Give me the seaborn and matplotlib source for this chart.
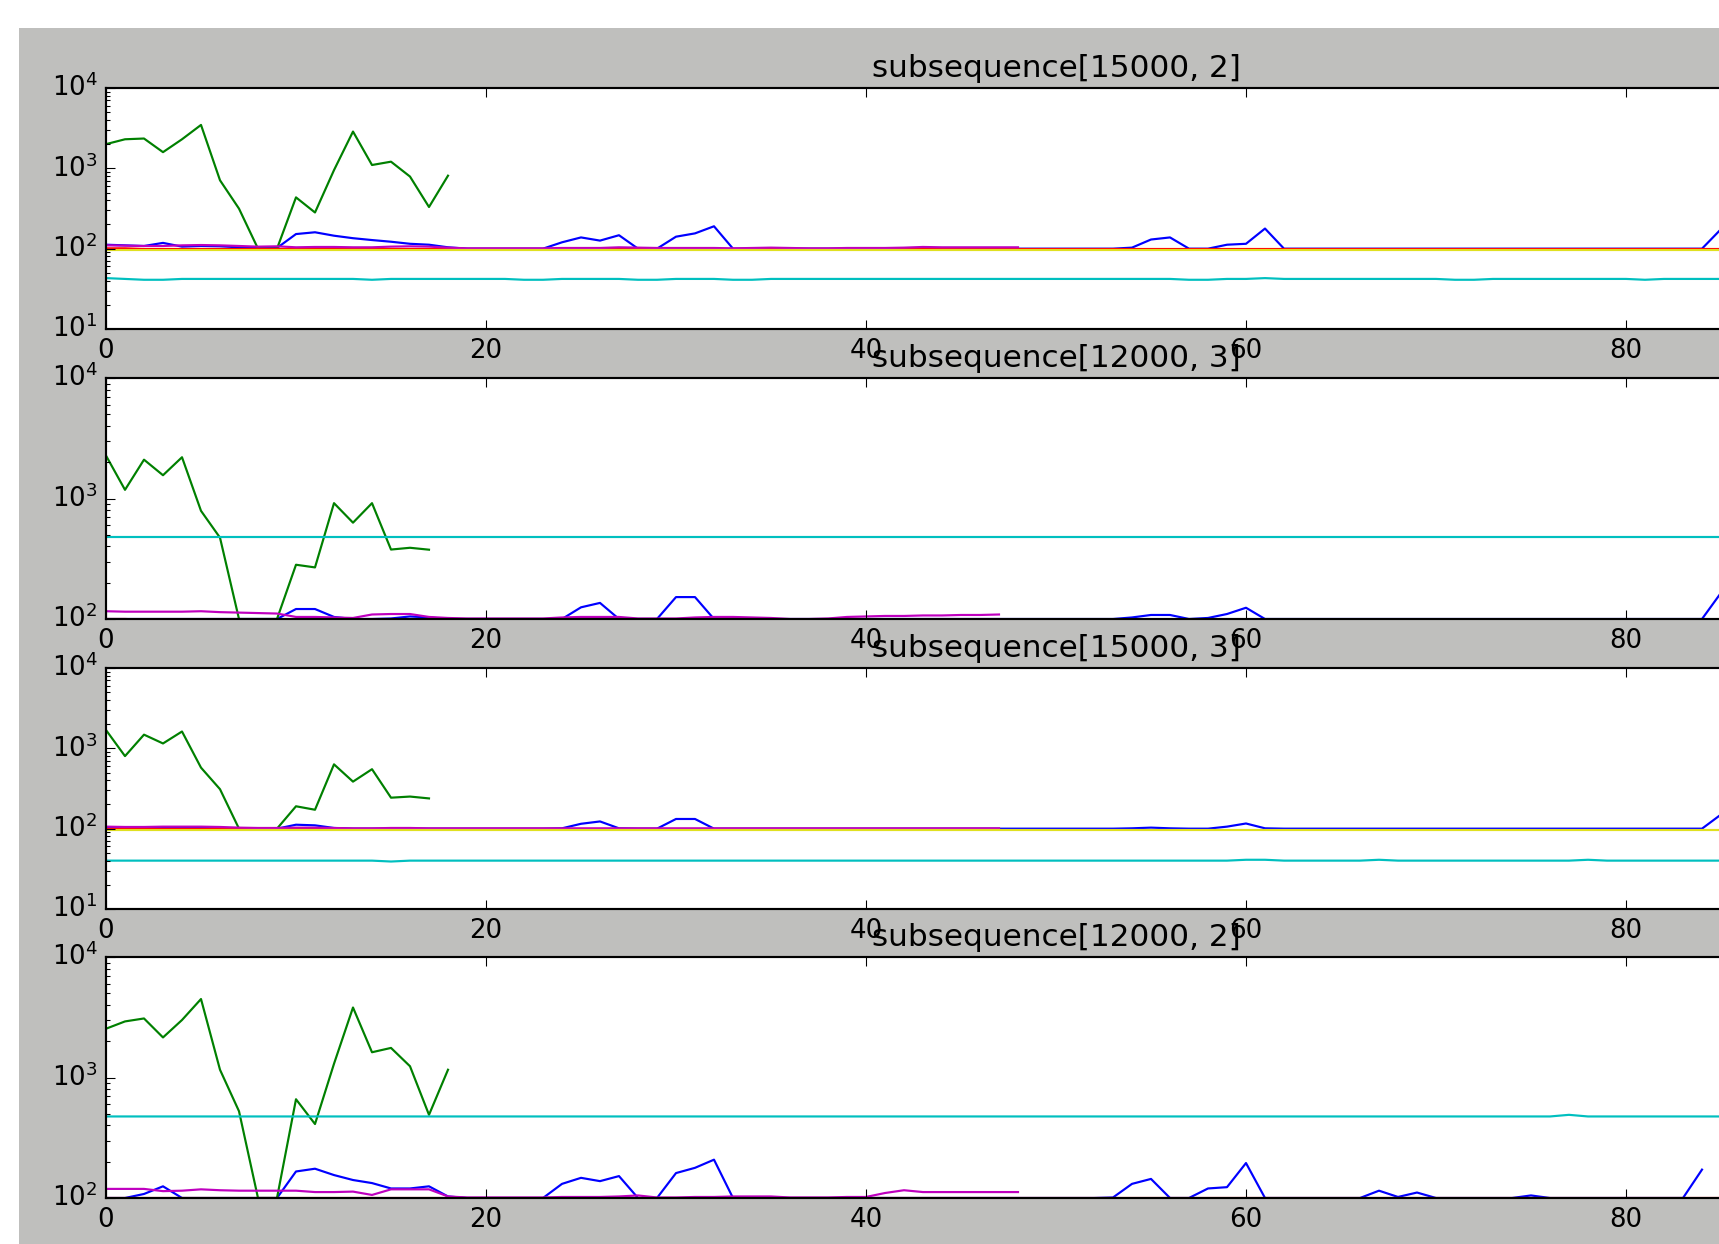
import matplotlib
matplotlib.use("Agg")
import matplotlib.pyplot as plt
from matplotlib.patches import Rectangle
import seaborn as sns

# old-style matplotlib look (grey figure, ticks inside, bgrcmy cycle)
plt.style.use("classic")

# ---- data (x = 0, 1, 2, ...) ----
titles = ["subsequence[15000, 2]", "subsequence[12000, 3]",
          "subsequence[15000, 3]", "subsequence[12000, 2]"]
ylims = [(1e1, 1e4), (1e2, 1e4), (1e1, 1e4), (1e2, 1e4)]

# subsequence[15000, 2]
blue_15000_2 = ([112, 110, 108, 118, 106, 108, 107, 104, 103, 102,
                 152, 160, 145, 135, 128, 122, 115, 112, 104, 100,
                 100, 100, 100, 100, 120, 138, 126, 147, 100, 100,
                 141, 155, 190, 100] + [100] * 20 +
                [103, 130, 138, 100, 100, 112, 115, 178, 100] + [100] * 22 + [175])
green_15000_2 = [2000, 2300, 2350, 1590, 2300, 3470, 710, 315, 100, 100,
                 435, 282, 950, 2870, 1100, 1210, 790, 330, 810]
red_15000_2 = [101, 101] + [99] * 84
cyan_15000_2 = [43, 42, 41, 41, 42, 42, 42, 42, 42, 42,
                42, 42, 42, 42, 41, 42, 42, 42, 42, 42,
                42, 42, 41, 41, 42, 42, 42, 42, 41, 41,
                42, 42, 42, 41, 41, 42, 42, 42, 42, 42,
                42, 42, 42, 42, 42, 42, 42, 42, 42, 42,
                42, 42, 42, 42, 42, 42, 42, 41, 41, 42,
                42, 43, 42, 42, 42, 42, 42, 42, 42, 42,
                42, 41, 41, 42, 42, 42, 42, 42, 42, 42,
                42, 41, 42, 42, 42, 42]
magenta_15000_2 = [110, 109, 108, 108, 110, 111, 110, 108, 106, 107,
                   104, 105, 105, 104, 104, 106, 107, 106, 103, 101,
                   101, 101, 101, 101, 102, 102, 102, 104, 103, 102,
                   102, 102, 102, 101, 102, 103, 102, 101, 101, 102,
                   102, 102, 103, 105, 104, 104, 104, 104, 104]
yellow_15000_2 = [97] * 86

# subsequence[12000, 3]
blue_12000_3 = ([100] * 10 + [121, 121, 104, 100, 100, 101, 105, 103] + [100] * 6 +
                [100, 125, 136, 100, 100, 100, 152, 152, 100] + [100] * 21 +
                [103, 108, 108, 100, 102, 110, 124, 100] + [100] * 23 + [165])
green_12000_3 = [2270, 1180, 2100, 1560, 2200, 790, 473, 100, 100, 100,
                 282, 268, 915, 630, 915, 377, 390, 376]
red_12000_3 = [100, 100] + [99] * 84
cyan_12000_3 = [480] * 86
magenta_12000_3 = [116, 115, 115, 115, 115, 116, 114, 113, 112, 111,
                   104, 104, 103, 102, 109, 110, 110, 104, 102, 101,
                   101, 101, 101, 101, 103, 104, 104, 104, 101, 101,
                   101, 103, 104, 104, 103, 102, 100, 100, 101, 104,
                   105, 106, 106, 107, 107, 108, 108, 109]
yellow_12000_3 = [97] * 86

# subsequence[15000, 3]
blue_15000_3 = ([104, 104, 104, 104, 103, 102, 101, 100, 100, 100,
                 112, 110, 102] + [100] * 11 +
                [101, 115, 123, 101, 100, 100, 132, 132, 100] + [100] * 21 +
                [101, 103, 101, 100, 100, 106, 116, 101] + [100] * 23 + [150])
green_15000_3 = [1690, 800, 1480, 1150, 1620, 575, 310, 100, 100, 100,
                 190, 172, 632, 385, 550, 243, 251, 238]
red_15000_3 = [100] * 48
cyan_15000_3 = [40, 40, 40, 40, 40, 40, 40, 40, 40, 40,
                40, 40, 40, 40, 40, 39, 40, 40, 40, 40,
                40, 40, 40, 40, 40, 40, 40, 40, 40, 40,
                40, 40, 40, 40, 40, 40, 40, 40, 40, 40,
                40, 40, 40, 40, 40, 40, 40, 40, 40, 40,
                40, 40, 40, 40, 40, 40, 40, 40, 40, 40,
                41, 41, 40, 40, 40, 40, 40, 41, 40, 40,
                40, 40, 40, 40, 40, 40, 40, 40, 41, 40,
                40, 40, 40, 40, 40, 40]
magenta_15000_3 = [106, 105, 105, 106, 106, 106, 105, 103, 102, 102,
                   103, 103, 102, 101, 101, 102, 102, 101, 101, 101,
                   101, 101, 101, 101, 101, 101, 101, 101, 101, 101,
                   101, 101, 101, 101, 101, 101, 101, 101, 101, 101,
                   101, 101, 101, 101, 101, 101, 101, 101]
yellow_15000_3 = [97] * 86

# subsequence[12000, 2]
blue_12000_2 = ([100, 100, 108, 125, 100, 100, 100, 100, 100, 100,
                 166, 175, 155, 141, 133, 120, 120, 125, 103, 100,
                 100, 100, 100, 100, 131, 147, 138, 152, 100, 100,
                 161, 178, 208, 100] + [100] * 19 +
                [101, 131, 144, 100, 100, 120, 123, 195, 100] + [100] * 5 +
                [115, 102, 111, 100, 100, 100, 100, 100, 105] + [100] * 8 + [172])
green_12000_2 = [2540, 2920, 3090, 2150, 3000, 4480, 1160, 525, 100, 100,
                 660, 411, 1300, 3810, 1620, 1760, 1240, 490, 1160]
red_12000_2 = [100] * 86
cyan_12000_2 = [475] * 77 + [490] + [475] * 8
magenta_12000_2 = [119, 119, 119, 114, 115, 118, 116, 115, 115, 115,
                   115, 112, 112, 113, 106, 118, 118, 118, 103, 101,
                   101, 101, 101, 101, 102, 102, 102, 103, 105, 101,
                   101, 102, 102, 103, 103, 103, 101, 101, 101, 102,
                   102, 110, 116, 112, 112, 112, 112, 112, 112]
yellow_12000_2 = [97] * 86

panels = [
    [blue_15000_2, green_15000_2, red_15000_2, cyan_15000_2, magenta_15000_2, yellow_15000_2],
    [blue_12000_3, green_12000_3, red_12000_3, cyan_12000_3, magenta_12000_3, yellow_12000_3],
    [blue_15000_3, green_15000_3, red_15000_3, cyan_15000_3, magenta_15000_3, yellow_15000_3],
    [blue_12000_2, green_12000_2, red_12000_2, cyan_12000_2, magenta_12000_2, yellow_12000_2],
]
# classic bgrcmy, yellow a bit brighter as it shows in the screenshot
colors = ["b", "g", "r", "c", "m", "#e0e020"]

# ---- figure: a cropped screenshot of a wider window ----
W, H, DPI = 1719, 1244, 156
fig = plt.figure(figsize=(W / DPI, H / DPI), dpi=DPI, facecolor="white")
fig.patches.append(Rectangle((19 / W, 0), 1, 1 - 28 / H, transform=fig.transFigure,
                             facecolor="#bfbfbd", edgecolor="none", zorder=-10))

tops = [88, 378, 668, 957]
ax_h = 241
for i, series in enumerate(panels):
    # axes run past the right edge of the capture (x range 0..100)
    ax = fig.add_axes([106 / W, 1 - (tops[i] + ax_h) / H, 1900 / W, ax_h / H])
    for vals, col in zip(series, colors):
        sns.lineplot(x=list(range(len(vals))), y=vals, ax=ax, color=col,
                     lw=1.0, estimator=None, legend=False)
    ax.set_yscale("log")
    ax.set_ylim(*ylims[i])
    ax.set_xlim(0, 100)
    ax.set_xticks([0, 20, 40, 60, 80])
    ax.set_xlabel("")
    ax.set_ylabel("")
    ax.set_title(titles[i])

fig.savefig("out.png", dpi=DPI, facecolor=fig.get_facecolor())
